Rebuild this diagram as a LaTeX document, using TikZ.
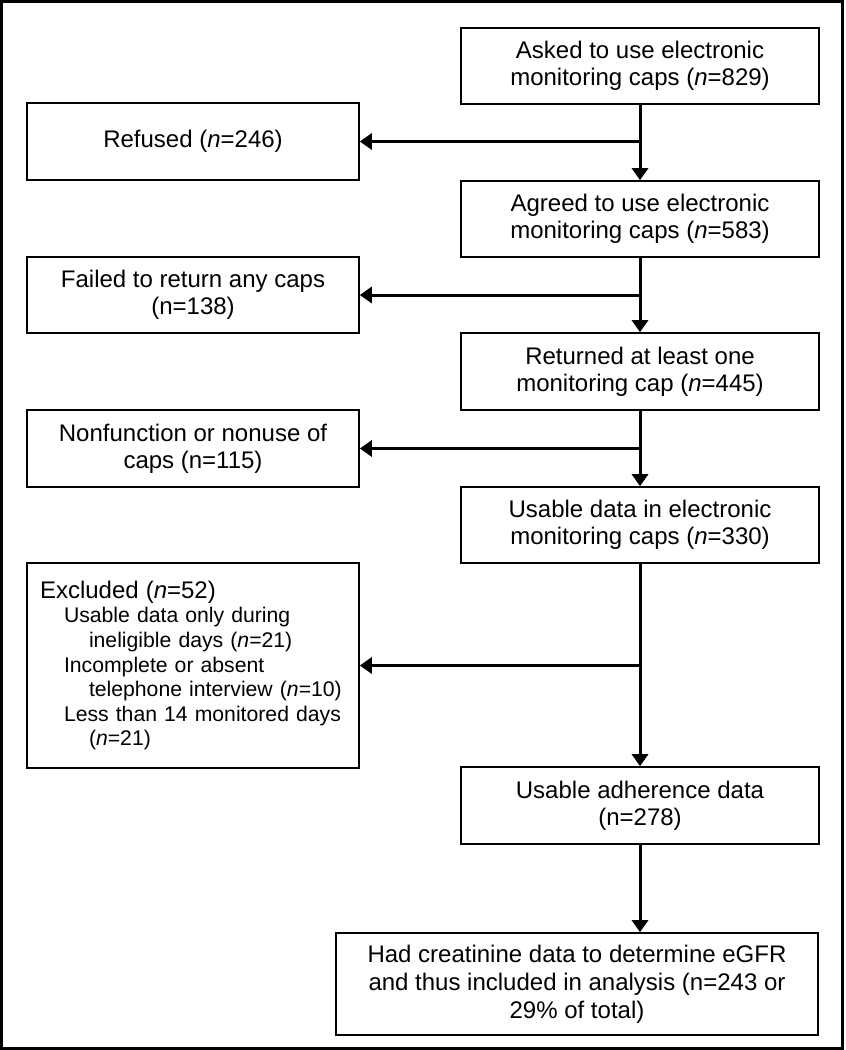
\documentclass[tikz,border=0pt]{standalone}
\usepackage{fontspec}
\setmainfont{Liberation Sans}
\usetikzlibrary{arrows.meta}
\tikzstyle{stepbox} = [rectangle, draw=black, line width=0.8pt, align=center, minimum width=179pt, minimum height=38pt, inner sep=2pt, font=\fontsize{12}{13.5}\selectfont]
\tikzstyle{sidebox} = [stepbox, minimum width=166pt]
\tikzstyle{arrow} = [line width=1.5pt, -{Triangle[width=8pt,length=6pt]}]

\begin{document}
\begin{tikzpicture}[x=0.5pt, y=-0.5pt]
\useasboundingbox (0,0) rectangle (846,1050);
\draw [line width=1.5pt] (1.5,1.5) rectangle (842,1048.5);

\node (asked) [stepbox] at (640,66) {Asked to use electronic\\ monitoring caps (\textit{n}=829)};
\node (agreed) [stepbox] at (640,219) {Agreed to use electronic\\ monitoring caps (\textit{n}=583)};
\node (returned) [stepbox, minimum height=38.5pt] at (640,371.5) {Returned at least one\\ monitoring cap (\textit{n}=445)};
\node (usable) [stepbox] at (640,525) {Usable data in electronic\\ monitoring caps (\textit{n}=330)};
\node (adherence) [stepbox, minimum height=38.5pt] at (640,805.5) {Usable adherence data\\ (n=278)};
\node (analysis) [stepbox, minimum width=241pt, minimum height=51pt, font=\fontsize{12}{14}\selectfont] at (577,984) {Had creatinine data to determine eGFR\\ and thus included in analysis (n=243 or\\ 29\% of total)};

\node (refused) [sidebox, minimum height=38.5pt] at (193,141.5) {Refused (\textit{n}=246)};
\node (failed) [sidebox] at (193,295) {Failed to return any caps\\ (n=138)};
\node (nonuse) [sidebox, minimum height=38.5pt] at (193,448.5) {Nonfunction or nonuse of\\ caps (n=115)};
\node (excluded) [sidebox, minimum height=102.5pt, align=left, text width=153pt, inner xsep=6.5pt, font=\fontsize{10.6}{12.3}\selectfont] at (193,665.5) {{\fontsize{12}{12.3}\selectfont Excluded (\textit{n}=52)}\\
\hspace*{12pt}Usable data only during\\
\hspace*{24.5pt}ineligible days (\textit{n}=21)\\
\hspace*{12pt}Incomplete or absent\\
\hspace*{24.5pt}telephone interview (\textit{n}=10)\\
\hspace*{12pt}Less than 14 monitored days\\
\hspace*{24.5pt}(\textit{n}=21)};

\draw [arrow] (asked) -- (agreed);
\draw [arrow] (agreed) -- (returned);
\draw [arrow] (returned) -- (usable);
\draw [arrow] (usable) -- (adherence);
\draw [arrow] (adherence) -- (adherence.south |- analysis.north);

\draw [arrow] (asked.south |- refused.east) -- (refused);
\draw [arrow] (agreed.south |- failed.east) -- (failed);
\draw [arrow] (returned.south |- nonuse.east) -- (nonuse);
\draw [arrow] (usable.south |- excluded.east) -- (excluded);

\end{tikzpicture}
\end{document}
